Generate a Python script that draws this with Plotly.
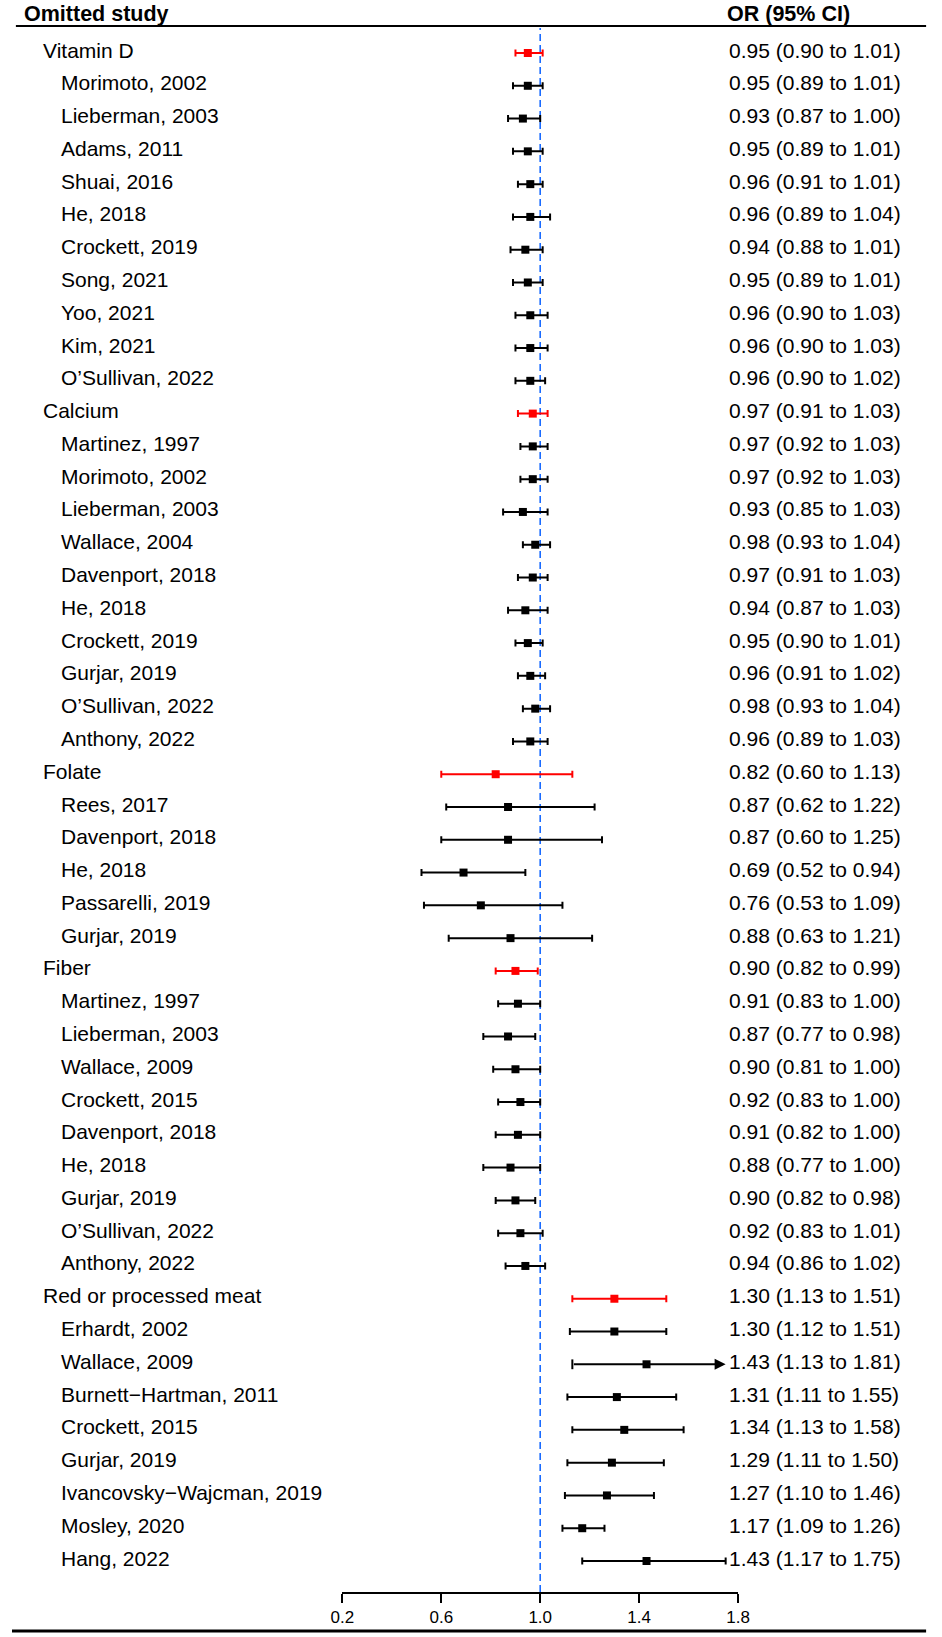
import plotly.graph_objects as go

# rows of the sensitivity (leave-one-out) table, top to bottom
labels = [
    "Vitamin D", "Morimoto, 2002", "Lieberman, 2003", "Adams, 2011", "Shuai, 2016",
    "He, 2018", "Crockett, 2019", "Song, 2021", "Yoo, 2021", "Kim, 2021", "O\u2019Sullivan, 2022",
    "Calcium", "Martinez, 1997", "Morimoto, 2002", "Lieberman, 2003", "Wallace, 2004",
    "Davenport, 2018", "He, 2018", "Crockett, 2019", "Gurjar, 2019", "O\u2019Sullivan, 2022",
    "Anthony, 2022",
    "Folate", "Rees, 2017", "Davenport, 2018", "He, 2018", "Passarelli, 2019", "Gurjar, 2019",
    "Fiber", "Martinez, 1997", "Lieberman, 2003", "Wallace, 2009", "Crockett, 2015",
    "Davenport, 2018", "He, 2018", "Gurjar, 2019", "O\u2019Sullivan, 2022", "Anthony, 2022",
    "Red or processed meat", "Erhardt, 2002", "Wallace, 2009", "Burnett\u2212Hartman, 2011",
    "Crockett, 2015", "Gurjar, 2019", "Ivancovsky\u2212Wajcman, 2019", "Mosley, 2020", "Hang, 2022",
]
group_rows = ["Vitamin D", "Calcium", "Folate", "Fiber", "Red or processed meat"]

odds = [
    0.95, 0.95, 0.93, 0.95, 0.96, 0.96, 0.94, 0.95, 0.96, 0.96, 0.96,
    0.97, 0.97, 0.97, 0.93, 0.98, 0.97, 0.94, 0.95, 0.96, 0.98, 0.96,
    0.82, 0.87, 0.87, 0.69, 0.76, 0.88,
    0.90, 0.91, 0.87, 0.90, 0.92, 0.91, 0.88, 0.90, 0.92, 0.94,
    1.30, 1.30, 1.43, 1.31, 1.34, 1.29, 1.27, 1.17, 1.43,
]
lower = [
    0.90, 0.89, 0.87, 0.89, 0.91, 0.89, 0.88, 0.89, 0.90, 0.90, 0.90,
    0.91, 0.92, 0.92, 0.85, 0.93, 0.91, 0.87, 0.90, 0.91, 0.93, 0.89,
    0.60, 0.62, 0.60, 0.52, 0.53, 0.63,
    0.82, 0.83, 0.77, 0.81, 0.83, 0.82, 0.77, 0.82, 0.83, 0.86,
    1.13, 1.12, 1.13, 1.11, 1.13, 1.11, 1.10, 1.09, 1.17,
]
upper = [
    1.01, 1.01, 1.00, 1.01, 1.01, 1.04, 1.01, 1.01, 1.03, 1.03, 1.02,
    1.03, 1.03, 1.03, 1.03, 1.04, 1.03, 1.03, 1.01, 1.02, 1.04, 1.03,
    1.13, 1.22, 1.25, 0.94, 1.09, 1.21,
    0.99, 1.00, 0.98, 1.00, 1.00, 1.00, 1.00, 0.98, 1.01, 1.02,
    1.51, 1.51, 1.81, 1.55, 1.58, 1.50, 1.46, 1.26, 1.75,
]

x_ticks = [0.2, 0.6, 1.0, 1.4, 1.8]
clip_at = 1.75  # CIs past this are drawn as an arrow

W, H = 942, 1637
row0 = 53          # pixel row of the first line
axis_y = 1592      # pixel row of the x axis
n = len(labels)
step = (1561 - row0) / (n - 1)
rows = list(range(n))
is_group = [lab in group_rows for lab in labels]

font = "Liberation Sans, Arial, sans-serif"
blue = "#1a6bff"

fig = go.Figure()

for colour, want_group in [("black", False), ("#ff0000", True)]:
    idx = [i for i in rows if is_group[i] == want_group and upper[i] <= clip_at]
    fig.add_trace(go.Scatter(
        x=[odds[i] for i in idx], y=idx, mode="markers",
        marker=dict(symbol="square", size=8, color=colour),
        error_x=dict(type="data", symmetric=False,
                     array=[upper[i] - odds[i] for i in idx],
                     arrayminus=[odds[i] - lower[i] for i in idx],
                     color=colour, thickness=2, width=3.5),
        cliponaxis=False, showlegend=False, hoverinfo="skip",
    ))

# rows whose upper limit runs past the axis
cut = [i for i in rows if upper[i] > clip_at]
fig.add_trace(go.Scatter(
    x=[lower[i] for i in cut], y=cut, mode="markers",
    marker=dict(symbol="line-ns", size=7, line=dict(width=2, color="black")),
    cliponaxis=False, showlegend=False, hoverinfo="skip",
))
fig.add_trace(go.Scatter(
    x=[odds[i] for i in cut], y=cut, mode="markers",
    marker=dict(symbol="square", size=8, color="black"),
    cliponaxis=False, showlegend=False, hoverinfo="skip",
))
for i in cut:
    fig.add_annotation(x=clip_at, y=i, ax=lower[i], ay=i, axref="x", ayref="y",
                       xref="x", yref="y", text="", showarrow=True,
                       arrowhead=2, arrowsize=1.1, arrowwidth=2, arrowcolor="black")

# left and right text columns
for i in rows:
    fig.add_annotation(x=(30 if is_group[i] else 48) / W, y=i, xref="paper", yref="y",
                       text=labels[i], showarrow=False, xanchor="left", yanchor="middle",
                       yshift=3, font=dict(family=font, size=21, color="black"))
    ci = f"{odds[i]:.2f} ({lower[i]:.2f} to {upper[i]:.2f})"
    fig.add_annotation(x=734 / W, y=i, xref="paper", yref="y",
                       text=ci, showarrow=False, xanchor="left", yanchor="middle",
                       yshift=3, font=dict(family=font, size=21, color="black"))

fig.add_annotation(x=10 / W, y=1 - 14 / H, xref="paper", yref="paper",
                   text="<b>Omitted study</b>", showarrow=False,
                   xanchor="left", yanchor="middle",
                   font=dict(family=font, size=21.5, color="black"))
fig.add_annotation(x=732 / W, y=1 - 14 / H, xref="paper", yref="paper",
                   text="<b>OR (95% CI)</b>", showarrow=False,
                   xanchor="left", yanchor="middle",
                   font=dict(family=font, size=21.5, color="black"))

# header rule, bottom rule, reference line at OR = 1
fig.add_shape(type="line", xref="paper", yref="paper", x0=4 / W, x1=938 / W,
              y0=1 - 26 / H, y1=1 - 26 / H, line=dict(color="black", width=2))
fig.add_shape(type="line", xref="paper", yref="paper", x0=0, x1=938 / W,
              y0=1 - 1631 / H, y1=1 - 1631 / H, line=dict(color="black", width=3))
fig.add_shape(type="line", xref="x", yref="paper", x0=1.0, x1=1.0,
              y0=1 - axis_y / H, y1=1 - 28 / H,
              line=dict(color=blue, width=1.6, dash="7px,4px"), layer="below")

px0, px1 = 339, 745
fig.update_layout(
    width=W, height=H, margin=dict(l=0, r=0, t=0, b=0),
    paper_bgcolor="white", plot_bgcolor="white",
    xaxis=dict(domain=[px0 / W, px1 / W], range=[x_ticks[0], x_ticks[-1]],
               tickvals=x_ticks, ticktext=[f"{v:.1f}" for v in x_ticks],
               showline=True, linecolor="black", linewidth=2,
               ticks="outside", ticklen=9, tickwidth=2, tickcolor="black",
               showgrid=False, zeroline=False,
               tickfont=dict(family=font, size=17, color="black")),
    yaxis=dict(domain=[1 - axis_y / H, 1],
               range=[(axis_y - row0) / step, -row0 / step],
               visible=False, showgrid=False, zeroline=False),
)

# the page's default 8px body margin would push the figure off the window
fig.write_html("out.html", config={"displayModeBar": False},
               post_script="document.body.style.margin = '0';")
